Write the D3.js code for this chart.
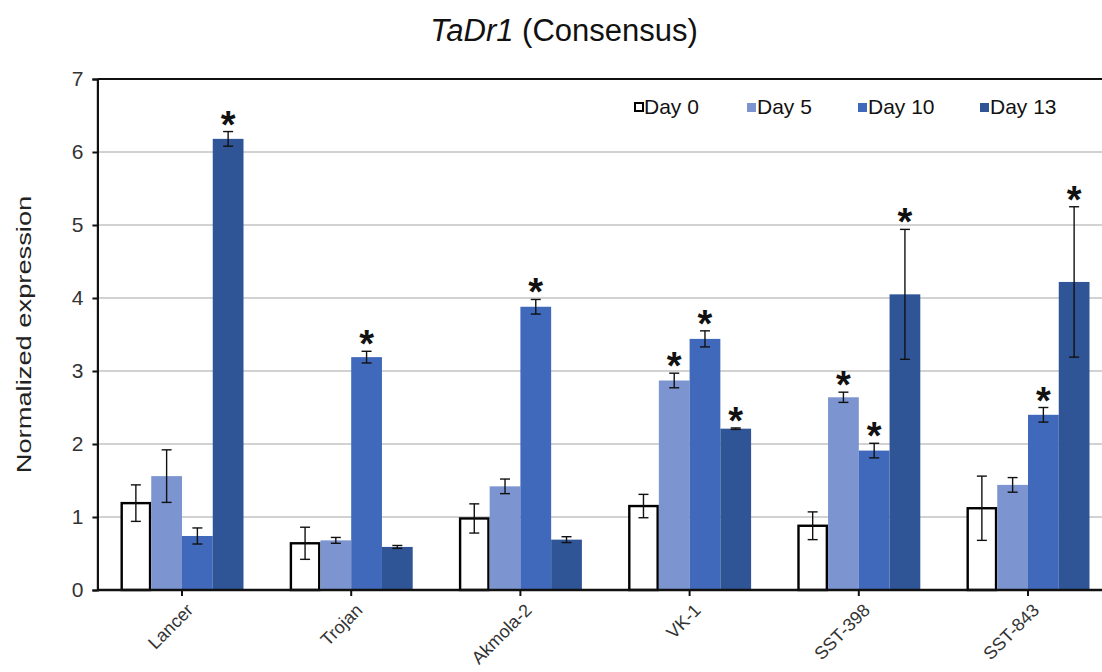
<!DOCTYPE html>
<html>
<head>
<meta charset="utf-8">
<script src="https://cdn.jsdelivr.net/npm/d3@7"></script>
<style>
  body { margin: 0; background: #fff; }
  svg { display: block; font-family: Arial, "Liberation Sans", sans-serif; }
</style>
</head>
<body>
<div id="chart-area"></div>
<script>
var categories = ['Lancer', 'Trojan', 'Akmola-2', 'VK-1', 'SST-398', 'SST-843']
var series = ['Day 0', 'Day 5', 'Day 10', 'Day 13']
var day0 = [1.19, 0.64, 0.98, 1.15, 0.88, 1.12]
var day5 = [1.56, 0.68, 1.42, 2.87, 2.64, 1.44]
var day10 = [0.74, 3.19, 3.88, 3.44, 1.91, 2.40]
var day13 = [6.18, 0.59, 0.69, 2.21, 4.05, 4.22]
var err0 = [0.25, 0.22, 0.20, 0.16, 0.19, 0.44]
var err5 = [0.36, 0.04, 0.10, 0.10, 0.07, 0.10]
var err10 = [0.11, 0.08, 0.10, 0.11, 0.10, 0.10]
var err13 = [0.10, 0.02, 0.04, 0.01, 0.89, 1.03]
// significance marks (1 = asterisk)
var sig0 = [0, 0, 0, 0, 0, 0]
var sig5 = [0, 0, 0, 1, 1, 0]
var sig10 = [0, 1, 1, 1, 1, 1]
var sig13 = [1, 0, 0, 1, 1, 1]
var yTicks = [0, 1, 2, 3, 4, 5, 6, 7]
var colors = ['#ffffff', '#7c94d0', '#4069bb', '#2f5597']

var values = [day0, day5, day10, day13]
var errs = [err0, err5, err10, err13]
var sigs = [sig0, sig5, sig10, sig13]

var ab_width = 1102
var ab_height = 672
var margin = { left: 97.4, right: -10.6, top: 79, bottom: 82 }
var width = ab_width - margin.left - margin.right,
    height = ab_height - margin.top - margin.bottom;

var svg = d3.select('#chart-area')
    .append('svg')
    .attr('width', ab_width)
    .attr('height', ab_height)

var g = svg.append('g')
    .attr('transform', 'translate(' + margin.left + ', ' + margin.top + ')');

var data = []
categories.forEach(function(c, i) {
  series.forEach(function(s, j) {
    data.push({ cat: c, series: s, idx: j, value: values[j][i], err: errs[j][i], sig: sigs[j][i] })
  })
})

var x0 = d3.scaleBand()
    .domain(categories)
    .range([0, width])
    .paddingInner(0.273)
    .paddingOuter(0.1365)

var x1 = d3.scaleBand()
    .domain(series)
    .range([0, x0.bandwidth()])

var y = d3.scaleLinear()
    .domain([0, 7])
    .range([height, 0])

// gridlines
g.selectAll('.grid').data(yTicks.filter(function(t){ return t > 0 && t < 7 }))
  .enter().append('line')
    .attr('x1', 0).attr('x2', ab_width - margin.left)
    .attr('y1', function(d){ return y(d) }).attr('y2', function(d){ return y(d) })
    .attr('stroke', '#a6a6a6').attr('stroke-width', 1.2)

// top border
g.append('line')
    .attr('x1', 0).attr('x2', ab_width - margin.left)
    .attr('y1', y(7)).attr('y2', y(7))
    .attr('stroke', '#111').attr('stroke-width', 2)

// bars
g.selectAll('rect.bar').data(data)
  .enter().append('rect')
    .attr('class', 'bar')
    .attr('x', function(d){ return x0(d.cat) + x1(d.series) + (d.idx == 0 ? 1.2 : 0) })
    .attr('y', function(d){ return y(d.value) })
    .attr('width', function(d){ return x1.bandwidth() - (d.idx == 0 ? 2.4 : 0) })
    .attr('height', function(d){ return y(0) - y(d.value) })
    .attr('fill', function(d){ return colors[d.idx] })
    .attr('stroke', function(d){ return d.idx == 0 ? '#000' : 'none' })
    .attr('stroke-width', 2.4)

// error bars
var eb = g.selectAll('g.err').data(data)
  .enter().append('g')
    .attr('class', 'err')
    .attr('transform', function(d){ return 'translate(' + (x0(d.cat) + x1(d.series) + x1.bandwidth() / 2) + ',0)' })

eb.append('line')
    .attr('y1', function(d){ return y(d.value + d.err) })
    .attr('y2', function(d){ return y(d.value - d.err) })
    .attr('stroke', '#111').attr('stroke-width', 1.4)
eb.append('line')
    .attr('x1', -5).attr('x2', 5)
    .attr('y1', function(d){ return y(d.value + d.err) })
    .attr('y2', function(d){ return y(d.value + d.err) })
    .attr('stroke', '#111').attr('stroke-width', 1.4)
eb.append('line')
    .attr('x1', -5).attr('x2', 5)
    .attr('y1', function(d){ return y(d.value - d.err) })
    .attr('y2', function(d){ return y(d.value - d.err) })
    .attr('stroke', '#111').attr('stroke-width', 1.4)

// asterisks
g.selectAll('text.sig').data(data.filter(function(d){ return d.sig }))
  .enter().append('text')
    .attr('class', 'sig')
    .attr('x', function(d){ return x0(d.cat) + x1(d.series) + x1.bandwidth() / 2 })
    .attr('y', function(d){ return y(d.value + d.err) + 6 })
    .attr('text-anchor', 'middle')
    .attr('font-size', 38)
    .attr('font-weight', 'bold')
    .attr('fill', '#111')
    .text('*')

// y axis
var yAxis = g.append('g')
    .call(d3.axisLeft(y).tickValues(yTicks).tickFormat(d3.format('d')).tickSize(5).tickPadding(9))
yAxis.select('.domain').attr('stroke', '#111').attr('stroke-width', 2.2)
yAxis.selectAll('.tick line').attr('stroke', '#111').attr('stroke-width', 2)
yAxis.selectAll('.tick text').attr('font-size', 21).attr('fill', '#333')
    .attr('font-family', 'Arial, "Liberation Sans", sans-serif')

// x axis
var xAxis = g.append('g')
    .attr('transform', 'translate(0,' + height + ')')
    .call(d3.axisBottom(x0).tickSizeOuter(0).tickSize(6))
xAxis.select('.domain').attr('stroke', '#111').attr('stroke-width', 2.4)
    .attr('d', 'M0,0H' + (ab_width - margin.left))
xAxis.selectAll('.tick line').attr('stroke', '#111').attr('stroke-width', 2)
xAxis.selectAll('.tick text')
    .attr('font-size', 18).attr('fill', '#333')
    .attr('font-family', 'Arial, "Liberation Sans", sans-serif')
    .attr('text-anchor', 'end')
    .attr('dy', null)
    .attr('transform', 'translate(6,15) rotate(-45)')

// y label
svg.append('text')
    .attr('transform', 'translate(31,' + (margin.top + height / 2) + ') rotate(-90) scale(1.3,1)')
    .attr('text-anchor', 'middle')
    .attr('font-size', 21)
    .attr('fill', '#222')
    .text('Normalized expression')

// title
var title = svg.append('text')
    .attr('x', 564).attr('y', 41)
    .attr('text-anchor', 'middle')
    .attr('font-size', 31)
    .attr('fill', '#111')
title.append('tspan').attr('font-style', 'italic').text('TaDr1')
title.append('tspan').text(' (Consensus)')

// legend
var legendX = [634, 747, 858, 980]
var legend = svg.selectAll('g.legend').data(series)
  .enter().append('g')
    .attr('class', 'legend')
    .attr('transform', function(d, i){ return 'translate(' + legendX[i] + ',114)' })
legend.append('rect')
    .attr('x', function(d, i){ return i == 0 ? 1 : 0 }).attr('y', -11)
    .attr('width', function(d, i){ return i == 0 ? 8 : 9 })
    .attr('height', function(d, i){ return i == 0 ? 8 : 9 })
    .attr('fill', function(d, i){ return colors[i] })
    .attr('stroke', function(d, i){ return i == 0 ? '#000' : 'none' })
    .attr('stroke-width', 2)
legend.append('text')
    .attr('x', 10).attr('y', 0)
    .attr('font-size', 21)
    .attr('fill', '#111')
    .text(function(d){ return d })
</script>
</body>
</html>
